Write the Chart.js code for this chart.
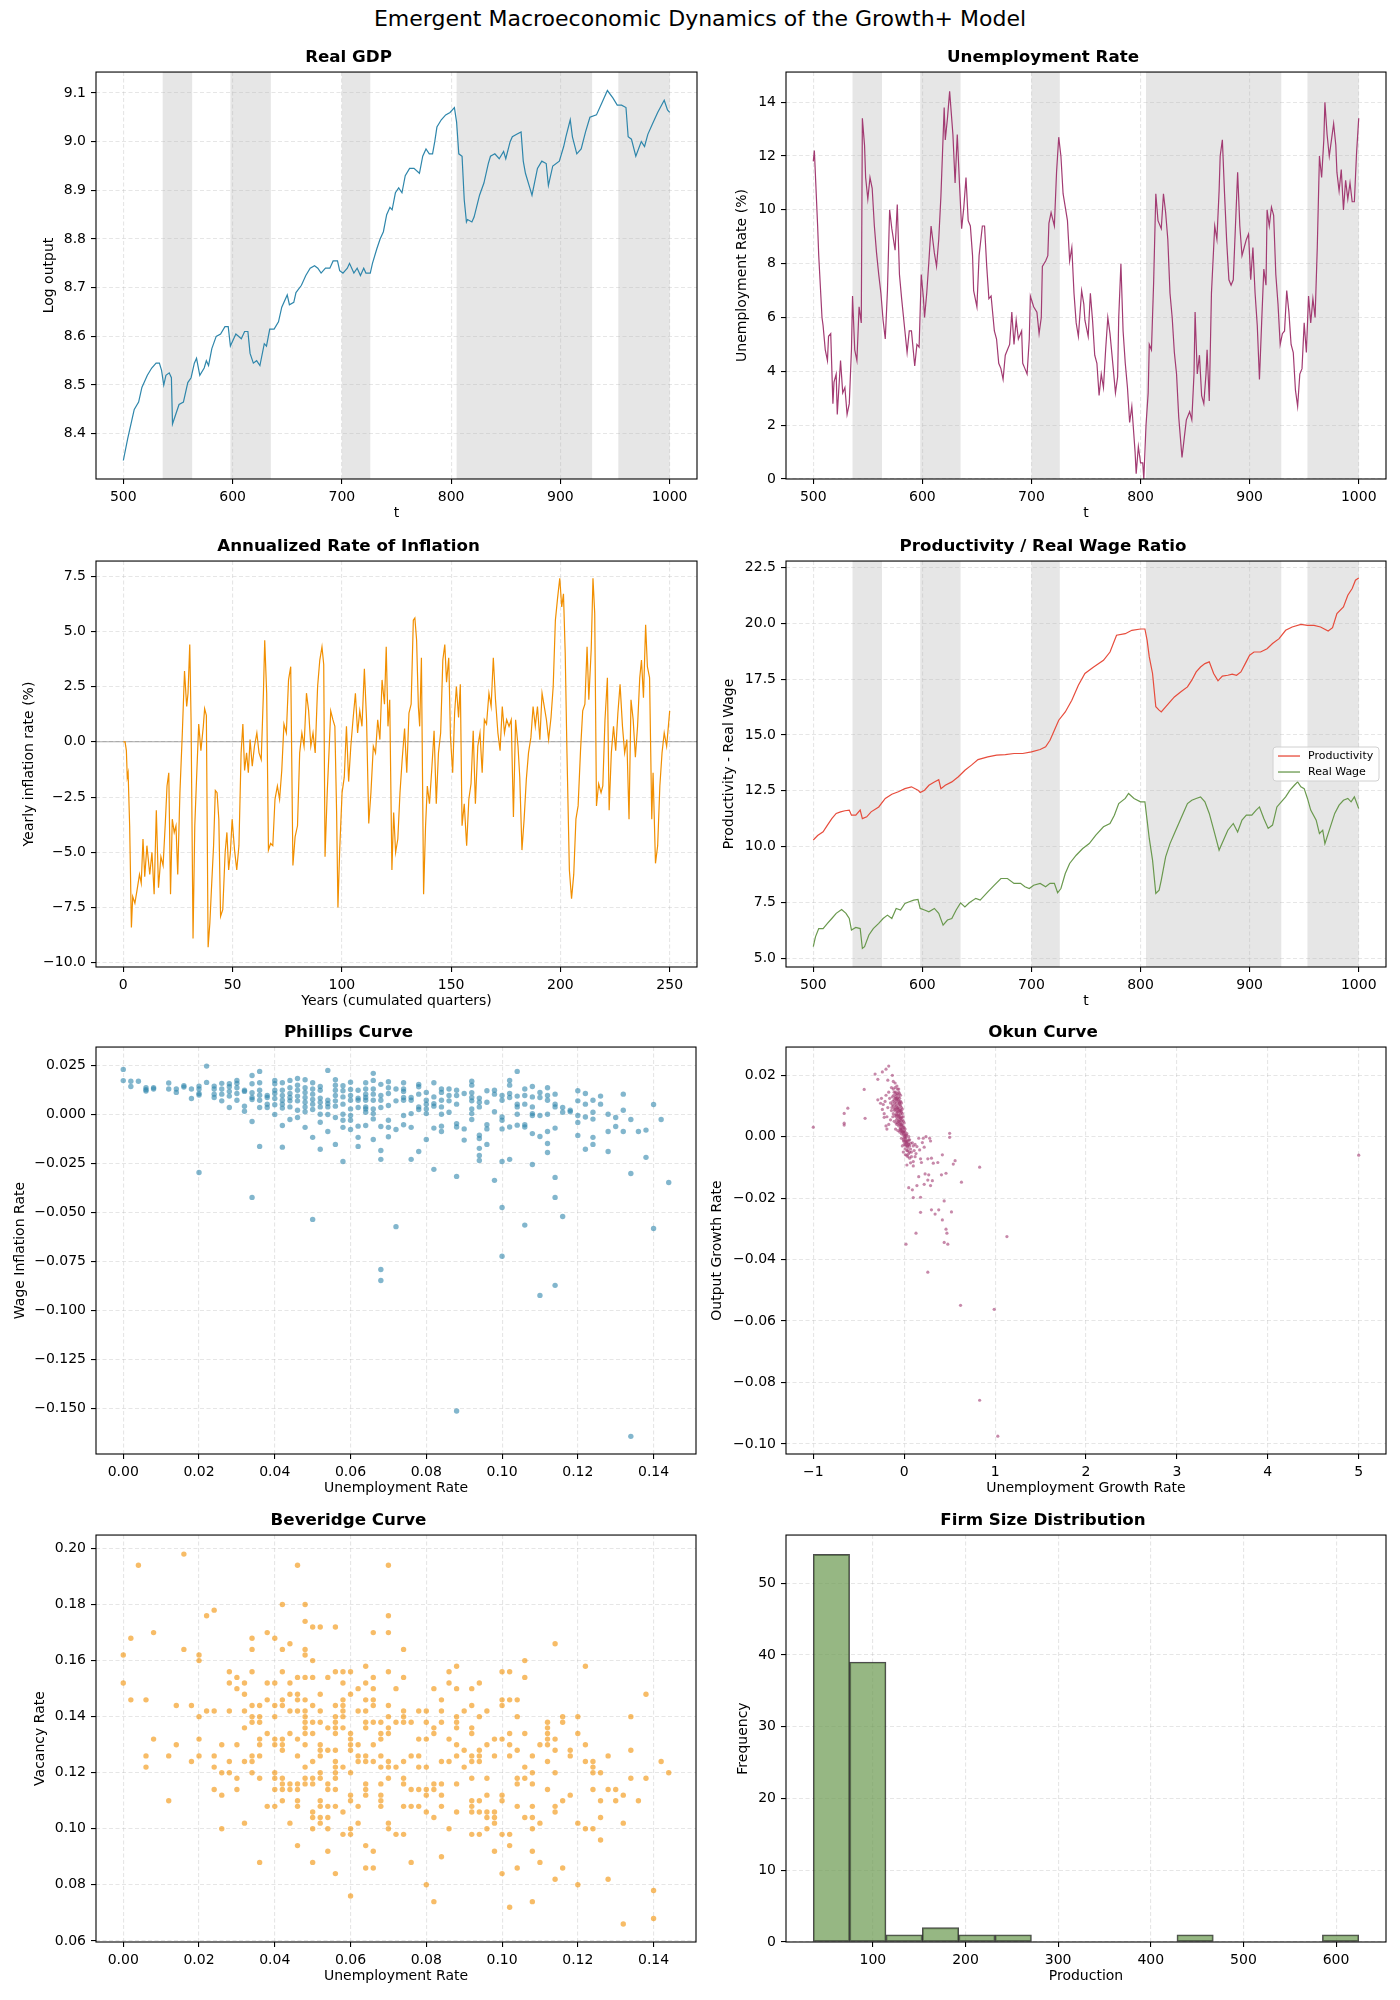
<!DOCTYPE html>
<html>
<head>
<meta charset="utf-8">
<script src="https://cdn.jsdelivr.net/npm/chart.js@4.4.1/dist/chart.umd.min.js"></script>
<style>
  body { margin: 0; background: #fff; width: 1400px; height: 2000px; position: relative; overflow: hidden; font-family: "DejaVu Sans", sans-serif; }
  #suptitle { position: absolute; left: 0; top: 7px; width: 1400px; text-align: center; font-size: 22px; line-height: 24px; color: #000; }
  canvas { position: absolute; }
</style>
</head>
<body>
<div id="suptitle">Emergent Macroeconomic Dynamics of the Growth+ Model</div>
<script>
// ---- data ----
const recessions = [[536, 563], [598, 635], [700, 726], [805, 929], [953, 1000]];

const gdpSeries = [[500,8.345],[504,8.39],[508,8.43],[510,8.45],[514,8.465],[517,8.495],[522,8.52],[526,8.535],[530,8.545],[533,8.545],[535,8.53],[537,8.50],[539,8.52],[542,8.525],[544,8.515],[545,8.42],[548,8.44],[551,8.46],[555,8.465],[559,8.505],[562,8.515],[565,8.545],[567,8.555],[570,8.52],[574,8.535],[576,8.55],[578,8.54],[581,8.575],[585,8.60],[589,8.605],[593,8.62],[596,8.62],[598,8.58],[601,8.595],[603,8.605],[608,8.595],[611,8.61],[614,8.61],[616,8.565],[619,8.545],[622,8.55],[625,8.54],[629,8.585],[631,8.58],[634,8.615],[638,8.615],[642,8.63],[645,8.66],[650,8.685],[652,8.665],[656,8.67],[658,8.69],[663,8.705],[667,8.725],[671,8.74],[675,8.745],[678,8.74],[681,8.73],[685,8.74],[689,8.74],[692,8.755],[696,8.755],[698,8.735],[701,8.73],[705,8.74],[707,8.75],[711,8.73],[714,8.74],[717,8.725],[720,8.74],[722,8.73],[726,8.73],[728,8.75],[732,8.78],[735,8.80],[738,8.815],[741,8.85],[744,8.865],[746,8.86],[749,8.895],[752,8.905],[755,8.895],[758,8.93],[762,8.945],[766,8.945],[771,8.935],[774,8.97],[777,8.985],[780,8.975],[783,8.975],[785,9.00],[787,9.03],[791,9.045],[795,9.055],[799,9.06],[803,9.07],[805,9.04],[807,8.975],[810,8.97],[812,8.88],[814,8.835],[815,8.84],[819,8.835],[821,8.845],[826,8.89],[830,8.915],[834,8.955],[836,8.97],[840,8.975],[844,8.965],[848,8.98],[850,8.965],[854,9.00],[856,9.01],[860,9.015],[864,9.02],[866,8.96],[868,8.935],[872,8.905],[874,8.89],[879,8.945],[883,8.96],[887,8.955],[889,8.91],[893,8.95],[899,8.96],[903,8.99],[905,9.01],[909,9.045],[911,9.01],[915,8.975],[919,8.985],[923,9.02],[927,9.05],[933,9.055],[938,9.08],[943,9.105],[948,9.09],[952,9.075],[956,9.075],[960,9.07],[962,9.01],[965,9.005],[969,8.97],[974,9.00],[977,8.99],[980,9.015],[984,9.035],[989,9.06],[995,9.085],[998,9.065],[1000,9.06]];

const unempSeries = [[500,11.8],[501,12.2],[504,9.4],[505,8.3],[508,6.0],[509,5.7],[511,4.8],[513,4.4],[514,5.3],[516,5.4],[518,2.8],[519,3.6],[521,3.9],[522,2.4],[525,4.4],[527,3.2],[529,3.4],[531,2.4],[533,2.8],[535,4.8],[536,6.8],[538,4.8],[540,4.4],[542,6.4],[544,5.8],[545,13.4],[547,12.4],[548,11.2],[550,10.4],[552,11.2],[554,10.8],[556,9.4],[558,8.4],[560,7.6],[562,6.9],[564,5.9],[566,5.2],[568,7.0],[570,10.0],[572,9.3],[575,8.5],[577,10.2],[579,7.6],[581,6.7],[584,5.5],[586,4.7],[588,5.5],[590,5.5],[593,4.2],[595,5.0],[597,4.9],[599,7.6],[601,6.7],[602,6.0],[604,6.9],[606,8.1],[608,9.4],[611,8.4],[613,7.9],[615,8.9],[617,10.5],[620,13.8],[621,12.6],[623,13.4],[625,14.4],[628,12.8],[630,11.0],[632,12.8],[634,11.0],[636,9.3],[638,10.1],[640,11.2],[642,9.6],[644,9.4],[646,8.3],[647,7.0],[650,6.4],[652,8.3],[655,9.4],[657,9.4],[659,7.9],[661,6.7],[663,6.8],[666,5.5],[668,5.2],[670,4.3],[672,4.1],[674,3.7],[676,4.6],[678,4.8],[680,5.0],[682,6.2],[684,5.0],[686,5.9],[688,5.2],[691,5.5],[692,4.3],[694,4.1],[696,3.9],[698,5.2],[699,6.8],[702,6.4],[705,6.2],[707,5.4],[709,6.0],[710,7.9],[713,8.1],[715,8.3],[716,9.5],[718,9.9],[721,9.4],[723,11.4],[725,12.7],[727,12.0],[729,10.6],[731,10.1],[733,9.6],[735,8.1],[737,8.6],[739,6.9],[741,5.8],[743,5.3],[746,7.0],[748,6.5],[749,5.9],[752,5.3],[754,6.9],[756,5.9],[758,4.6],[760,4.3],[762,3.1],[764,3.9],[766,3.4],[768,4.8],[770,6.0],[772,5.4],[775,4.1],[777,3.2],[779,3.8],[780,6.0],[782,8.0],[784,5.5],[786,4.3],[788,3.4],[790,2.1],[792,2.7],[795,1.0],[796,0.2],[798,1.2],[800,0.6],[802,0.6],[803,0.0],[805,2.0],[807,3.2],[808,5.0],[810,4.8],[812,7.3],[814,10.6],[816,9.6],[819,9.3],[821,10.6],[823,9.9],[825,8.9],[827,6.9],[829,6.0],[831,4.7],[833,3.9],[835,2.3],[838,0.8],[840,1.5],[842,2.2],[845,2.5],[847,2.2],[849,3.9],[850,6.2],[852,3.9],[854,4.6],[856,3.1],[858,2.8],[860,3.9],[861,4.8],[863,2.9],[865,6.9],[868,9.4],[870,8.9],[872,10.7],[873,12.0],[875,12.6],[877,10.6],[879,8.8],[881,7.4],[883,7.2],[885,7.4],[887,9.4],[889,11.4],[891,9.4],[893,8.3],[895,8.6],[897,8.9],[899,9.1],[901,7.4],[903,8.6],[905,6.9],[907,5.7],[909,3.7],[911,5.8],[913,7.8],[915,7.2],[916,10.0],[918,9.4],[920,10.1],[922,9.8],[924,7.6],[926,6.5],[928,5.0],[930,5.4],[932,5.5],[934,7.0],[936,6.2],[938,5.0],[940,4.7],[942,3.3],[944,2.7],[946,3.9],[948,4.1],[950,5.8],[952,4.7],[954,6.8],[956,5.8],[958,6.7],[960,6.0],[962,8.6],[964,12.0],[966,11.2],[968,12.6],[969,14.0],[971,12.8],[973,12.0],[975,12.6],[977,13.2],[979,12.4],[980,11.4],[982,10.7],[984,11.5],[986,10.0],[988,11.1],[990,10.4],[992,11.0],[994,10.3],[996,10.3],[998,12.1],[1000,13.4]];

const inflSeries = [[0,0.0],[0.8,0.0],[1.4,-0.4],[1.8,-1.6],[2.2,-1.4],[2.9,-3.8],[3.7,-8.4],[4.3,-7.0],[5.3,-7.3],[6.3,-6.7],[7.4,-6.0],[8.2,-6.4],[9.0,-4.4],[9.8,-6.1],[10.8,-4.7],[12.1,-6.0],[13.1,-5.0],[14.1,-6.9],[15.1,-3.1],[16.1,-6.6],[17.2,-5.2],[18.2,-5.6],[19.2,-3.7],[20.0,-2.0],[20.8,-1.4],[21.6,-6.9],[22.4,-3.5],[23.3,-4.1],[24.1,-3.8],[24.9,-6.0],[25.9,-2.3],[27.0,0.4],[28.0,3.2],[29.0,1.6],[29.6,2.2],[30.4,4.4],[31.0,1.0],[31.9,-8.9],[32.7,-3.8],[33.5,-1.7],[34.5,0.8],[35.5,-0.4],[36.6,0.7],[37.2,1.5],[38.0,1.2],[38.8,-9.3],[39.6,-8.2],[40.4,-6.5],[41.3,-4.7],[42.1,-2.2],[42.9,-2.3],[43.7,-3.5],[44.5,-7.9],[45.5,-7.6],[46.6,-5.0],[47.4,-4.1],[48.2,-5.8],[49.0,-5.0],[49.8,-3.5],[50.9,-4.9],[51.9,-5.8],[52.9,-4.7],[53.9,-0.5],[54.7,0.8],[55.5,-1.3],[56.4,-0.5],[57.2,-1.4],[58.0,0.1],[59.0,-1.1],[60.0,-0.2],[61.1,0.4],[62.1,-0.5],[63.1,-0.8],[64.1,2.2],[64.7,4.6],[65.6,2.2],[66.4,-4.9],[67.4,-4.6],[68.4,-4.7],[69.4,-2.6],[70.5,-2.0],[71.5,-2.6],[72.5,-1.3],[73.5,0.8],[74.6,0.4],[75.6,2.8],[76.6,3.4],[77.6,-5.6],[78.6,-4.3],[79.7,-3.8],[80.7,-0.5],[81.7,0.4],[82.7,-0.2],[83.8,2.2],[84.8,1.4],[85.8,-0.2],[86.8,0.4],[87.8,-0.5],[88.9,2.5],[89.9,3.7],[90.9,4.3],[91.7,3.5],[92.3,-5.2],[93.3,-2.3],[94.1,-0.5],[94.9,1.4],[95.9,1.0],[96.8,0.7],[97.6,-3.2],[98.2,-7.5],[99.0,-4.9],[100.1,-2.3],[101.1,-1.6],[102.1,0.7],[103.1,-1.8],[104.1,-0.2],[105.1,1.0],[106.2,2.2],[107.2,0.4],[108.2,1.4],[109.2,0.7],[110.3,3.3],[111.3,1.0],[112.3,-3.7],[113.3,-2.3],[114.4,-0.2],[115.4,-0.5],[116.4,1.0],[117.4,0.1],[118.4,2.8],[119.5,1.7],[120.3,4.3],[121.1,0.7],[121.9,1.9],[122.9,-5.8],[123.7,-3.2],[124.6,-5.0],[125.6,-4.4],[126.6,-2.3],[127.6,-0.8],[128.7,0.6],[129.7,-1.4],[130.7,1.3],[131.7,1.7],[132.7,5.5],[133.4,5.6],[134.2,4.6],[135.0,1.6],[135.6,0.7],[136.4,3.8],[137.4,-6.9],[138.3,-3.8],[139.1,-2.0],[140.1,-2.8],[141.1,-1.3],[142.2,0.5],[143.2,-2.8],[144.2,-0.5],[145.2,0.4],[146.2,3.7],[147.1,4.4],[147.9,2.7],[148.9,3.8],[149.7,0.2],[150.7,-1.4],[151.6,1.3],[152.4,2.5],[153.4,1.1],[154.2,2.6],[155.0,-3.8],[156.0,-2.8],[157.1,-4.7],[158.1,-2.6],[159.1,-1.9],[160.1,0.5],[161.1,-2.8],[162.2,-0.2],[163.2,0.4],[164.2,-1.4],[165.2,1.0],[166.2,0.8],[167.3,2.2],[168.3,1.6],[169.3,3.8],[170.3,1.9],[171.4,0.4],[172.4,-0.4],[173.4,1.6],[174.4,0.4],[175.4,1.0],[176.5,0.7],[177.5,1.0],[178.5,-3.4],[179.5,1.0],[180.6,-0.2],[181.4,-1.6],[182.4,-4.9],[183.4,-3.5],[184.4,-1.7],[185.4,-0.5],[186.5,0.2],[187.5,1.6],[188.5,0.7],[189.5,1.6],[190.6,0.1],[191.6,2.2],[192.6,1.6],[193.6,1.0],[194.6,0.1],[195.7,1.1],[196.7,2.5],[197.7,5.5],[198.7,6.5],[199.7,7.4],[200.6,6.1],[201.4,6.7],[202.2,4.0],[203.0,-0.5],[204.1,-5.8],[205.1,-7.1],[206.1,-6.0],[207.1,-3.5],[208.1,-2.9],[209.2,-0.4],[210.2,1.4],[211.2,1.7],[212.2,4.3],[213.0,1.9],[214.1,4.2],[214.9,7.4],[215.7,5.8],[216.5,-2.9],[217.5,-1.9],[218.6,-2.3],[219.4,-2.0],[220.4,1.0],[221.5,2.9],[222.3,-3.1],[223.3,-0.5],[224.3,0.7],[225.3,-0.4],[226.3,1.3],[227.3,2.6],[228.4,0.7],[229.4,-0.5],[230.4,0.1],[231.4,-3.5],[232.3,1.9],[233.3,1.0],[234.3,-0.7],[235.3,0.7],[236.3,2.9],[237.1,3.7],[238.0,2.0],[239.0,5.3],[239.8,3.4],[240.8,2.9],[241.8,-3.5],[242.4,-1.4],[243.5,-5.5],[244.5,-4.7],[245.5,-2.0],[246.5,-0.5],[247.5,0.4],[248.6,-0.2],[249.4,0.7],[250,1.4]];

const prodSeries = [[500,10.3],[504,10.5],[509,10.67],[513,10.97],[517,11.26],[521,11.49],[525,11.56],[529,11.61],[533,11.64],[535,11.41],[539,11.41],[543,11.64],[545,11.26],[549,11.34],[553,11.56],[560,11.78],[566,12.16],[572,12.35],[578,12.46],[584,12.6],[590,12.68],[596,12.53],[598,12.43],[602,12.53],[606,12.75],[611,12.9],[615,13.0],[617,12.6],[621,12.75],[627,12.9],[633,13.13],[639,13.42],[645,13.65],[651,13.9],[660,14.02],[668,14.1],[676,14.12],[684,14.17],[692,14.17],[700,14.24],[708,14.35],[713,14.47],[717,14.76],[721,15.21],[725,15.66],[731,16.03],[737,16.55],[743,17.22],[749,17.75],[757,18.04],[766,18.34],[772,18.71],[778,19.46],[786,19.53],[792,19.68],[800,19.74],[804,19.74],[806,19.24],[808,18.49],[811,17.75],[814,16.26],[817,16.11],[819,16.03],[823,16.26],[827,16.48],[831,16.7],[837,16.93],[843,17.15],[847,17.45],[851,17.82],[855,18.04],[859,18.19],[863,18.27],[867,17.75],[871,17.42],[875,17.63],[880,17.67],[884,17.72],[888,17.67],[892,17.82],[896,18.19],[900,18.57],[904,18.71],[910,18.71],[916,18.86],[921,19.09],[927,19.31],[933,19.68],[939,19.83],[947,19.95],[953,19.9],[959,19.9],[965,19.83],[972,19.65],[976,19.8],[980,20.43],[986,20.73],[990,21.25],[994,21.55],[997,21.92],[1000,22.02]];

const wageSeries = [[500,5.53],[502,5.97],[505,6.34],[509,6.34],[513,6.57],[517,6.79],[521,7.02],[526,7.19],[530,7.02],[533,6.79],[535,6.27],[539,6.39],[543,6.34],[545,5.45],[547,5.53],[551,6.05],[555,6.34],[560,6.57],[564,6.79],[568,6.94],[572,6.79],[576,7.24],[580,7.17],[584,7.46],[588,7.54],[592,7.61],[596,7.64],[598,7.24],[602,7.17],[606,7.09],[611,7.24],[615,7.02],[619,6.49],[623,6.72],[627,6.79],[631,7.17],[635,7.49],[639,7.31],[643,7.49],[649,7.69],[653,7.61],[660,7.98],[666,8.28],[672,8.58],[678,8.58],[684,8.36],[690,8.36],[694,8.21],[698,8.13],[702,8.28],[708,8.36],[713,8.21],[717,8.36],[721,8.36],[724,7.94],[727,8.13],[731,8.8],[735,9.25],[741,9.62],[747,9.92],[753,10.14],[759,10.52],[766,10.89],[772,11.04],[776,11.41],[780,11.93],[786,12.16],[789,12.38],[794,12.16],[800,12.01],[804,12.01],[806,11.19],[808,10.37],[811,9.4],[814,7.91],[817,8.06],[819,8.51],[823,9.55],[827,10.14],[831,10.59],[835,11.04],[839,11.49],[843,11.93],[847,12.08],[851,12.16],[855,12.23],[859,12.01],[863,11.49],[868,10.59],[872,9.85],[876,10.29],[880,10.74],[885,11.04],[889,10.66],[893,11.19],[897,11.41],[902,11.41],[906,11.64],[909,11.78],[913,11.26],[917,10.82],[921,10.97],[925,11.78],[929,12.01],[933,12.23],[937,12.53],[941,12.75],[944,12.9],[947,12.68],[950,12.6],[953,12.16],[956,11.64],[961,11.19],[964,10.59],[967,10.74],[969,10.14],[974,10.89],[978,11.49],[982,11.86],[986,12.08],[990,12.16],[993,12.01],[996,12.23],[1000,11.71]];

// Phillips curve: [unemployment rate, [wage inflation values]]
const phillipsCols = [
  [0.000,[0.0228,0.0171]],[0.002,[0.0168,0.0141]],[0.004,[0.0168]],[0.006,[0.0135,0.0125,0.0118]],
  [0.008,[0.0135,0.0128]],[0.012,[0.0159,0.0128]],[0.014,[0.0128,0.0111]],[0.016,[0.0145,0.0138]],
  [0.018,[0.0128,0.0080]],[0.020,[0.0143,0.0128,0.0105,0.0098,-0.0297]],[0.022,[0.0245,0.0162]],
  [0.024,[0.0143,0.0128,0.0102,0.0085]],[0.026,[0.0157,0.0128,0.0102,0.0068]],
  [0.028,[0.0155,0.0140,0.0116,0.0092,0.0034]],[0.030,[0.0172,0.0157,0.0135,0.0105,0.0071]],
  [0.032,[0.0122,0.0116,0.0041,0.0015]],[0.034,[0.0197,0.0155,0.0109,0.0085,0.0075,-0.0037,-0.0424]],
  [0.036,[0.0218,0.0160,0.0122,0.0097,0.0071,0.0034,-0.0164]],[0.038,[0.0095,0.0085,0.0051,0.0034]],
  [0.040,[0.0172,0.0155,0.0122,0.0105,0.0080,0.0048,-0.0002]],
  [0.042,[0.0160,0.0122,0.0095,0.0071,0.0051,0.0031,-0.0058,-0.0168]],
  [0.044,[0.0172,0.0135,0.0105,0.0085,0.0068,0.0037,-0.0027]],
  [0.046,[0.0182,0.0148,0.0122,0.0092,0.0068,0.0020,-0.0017]],
  [0.048,[0.0175,0.0135,0.0111,0.0085,0.0061,0.0037,0.0012,-0.0067]],
  [0.050,[0.0160,0.0128,0.0102,0.0075,0.0051,0.0024,-0.0118,-0.0536]],
  [0.052,[0.0141,0.0122,0.0082,0.0061,0.0037,0.0000,-0.0041,-0.0179]],
  [0.054,[0.0223,0.0071,0.0054,0.0037,-0.0002,-0.0088]],
  [0.056,[0.0175,0.0148,0.0122,0.0095,0.0068,0.0041,-0.0017,-0.0154]],
  [0.058,[0.0145,0.0119,0.0088,0.0051,0.0000,-0.0031,-0.0067,-0.0241]],
  [0.060,[0.0163,0.0126,0.0095,0.0071,0.0027,-0.0007,-0.0031,-0.0078]],
  [0.062,[0.0122,0.0082,0.0071,0.0034,-0.0061,-0.0118,-0.0164]],
  [0.064,[0.0160,0.0128,0.0102,0.0085,0.0071,0.0037,0.0027,0.0010,-0.0058]],
  [0.066,[0.0208,0.0172,0.0128,0.0102,0.0071,0.0027,0.0003,-0.0024,-0.0129]],
  [0.068,[0.0152,0.0095,0.0071,0.0034,-0.0063,-0.0185,-0.0230,-0.0791,-0.0847]],
  [0.070,[0.0165,0.0135,0.0105,0.0044,-0.0031,-0.0067,-0.0115]],
  [0.072,[0.0128,0.0068,-0.0078,-0.0573]],
  [0.074,[0.0160,0.0128,0.0116,0.0085,0.0071,-0.0007,-0.0054]],
  [0.076,[0.0085,0.0071,0.0003,-0.0067,-0.0230]],
  [0.078,[0.0152,0.0140,0.0102,0.0037,0.0024,-0.0190]],
  [0.080,[0.0111,0.0071,0.0051,0.0027,0.0003,-0.0129]],
  [0.082,[0.0160,0.0088,0.0054,0.0041,-0.0071,-0.0281]],
  [0.084,[0.0128,0.0111,0.0071,0.0037,0.0000,-0.0061,-0.0088]],
  [0.086,[0.0128,0.0095,0.0068,0.0010]],
  [0.088,[0.0122,0.0095,0.0051,-0.0048,-0.0065,-0.0317,-0.1512]],
  [0.090,[0.0105,-0.0075,-0.0132]],
  [0.092,[0.0168,0.0148,0.0109,0.0085,0.0068,0.0027,0.0003,-0.0027]],
  [0.094,[0.0082,0.0061,0.0037,-0.0107,-0.0124,-0.0174,-0.0210,-0.0236]],
  [0.096,[0.0119,0.0061,-0.0054,-0.0075,-0.0154]],
  [0.098,[0.0122,0.0102,0.0012,-0.0337]],
  [0.100,[0.0095,0.0071,-0.0014,-0.0031,-0.0075,-0.0241,-0.0475,-0.0724]],
  [0.102,[0.0172,0.0148,0.0105,0.0085,-0.0065,-0.0230]],
  [0.104,[0.0218,0.0092,0.0051,0.0037,0.0000,-0.0056]],
  [0.106,[0.0128,0.0095,0.0051,-0.0054,-0.0065,-0.0565]],
  [0.108,[0.0141,0.0088,0.0037,0.0003,-0.0007,-0.0099,-0.0256]],
  [0.110,[0.0111,0.0085,-0.0007,-0.0114,-0.0923]],
  [0.112,[0.0135,0.0095,0.0071,0.0000,-0.0088,-0.0149,-0.0195]],
  [0.114,[0.0102,0.0051,0.0037,-0.0071,-0.0322,-0.0424,-0.0872]],
  [0.116,[0.0034,0.0010,-0.0521]],[0.118,[0.0020,0.0012]],
  [0.120,[0.0119,0.0068,-0.0007,-0.0042,-0.0108]],[0.122,[0.0105,0.0051,-0.0014,-0.0179]],
  [0.124,[0.0071,0.0010,-0.0025,-0.0118,-0.0154]],[0.126,[0.0092,0.0051]],
  [0.128,[0.0000,-0.0088,-0.0190]],[0.130,[-0.0017,-0.0063]],[0.132,[0.0102,0.0020,-0.0088]],
  [0.134,[-0.0027,-0.0302,-0.1641]],[0.136,[-0.0088]],[0.138,[-0.0081,-0.0220]],
  [0.140,[0.0049,-0.0582]],[0.142,[-0.0027]],[0.144,[-0.0348]]
];

// Okun curve: [unemployment growth, output growth]
const okunPoints = [
  [-1.0,0.0031],[-0.66,0.0076],[-0.66,0.0044],[-0.66,0.0038],[-0.62,0.0093],[-0.44,0.0154],[-0.43,0.0060],
  [-0.32,0.0204],[-0.29,0.0187],[-0.24,0.0211],[-0.20,0.0220],[-0.17,0.0230],[-0.13,0.0200],[-0.18,0.0184],
  [-0.29,0.0120],[-0.26,0.0109],[-0.24,0.0089],[-0.22,0.0063],[-0.20,0.0035],[-0.19,0.0025],[-0.17,0.0040],
  [-0.14,0.016],[-0.12,0.0155],[-0.10,0.016],[-0.09,0.014],[-0.08,0.0135],[-0.07,0.014],[-0.06,0.013],[-0.05,0.0125],
  [-0.13,0.013],[-0.11,0.012],[-0.10,0.0125],[-0.09,0.0115],[-0.08,0.012],[-0.07,0.011],[-0.06,0.0105],[-0.05,0.011],
  [-0.04,0.010],[-0.15,0.011],[-0.13,0.0105],[-0.12,0.010],[-0.11,0.009],[-0.10,0.0095],[-0.09,0.009],[-0.08,0.0085],
  [-0.07,0.009],[-0.06,0.008],[-0.05,0.0085],[-0.04,0.0075],[-0.03,0.008],[-0.14,0.0085],[-0.12,0.0075],[-0.10,0.007],
  [-0.09,0.0065],[-0.08,0.007],[-0.07,0.006],[-0.06,0.0065],[-0.05,0.0055],[-0.04,0.006],[-0.03,0.005],[-0.02,0.0055],
  [-0.11,0.005],[-0.09,0.0045],[-0.08,0.004],[-0.07,0.0045],[-0.06,0.0035],[-0.05,0.004],[-0.04,0.003],[-0.03,0.0035],
  [-0.02,0.0025],[-0.01,0.003],[0.0,0.002],[-0.07,0.002],[-0.05,0.0015],[-0.04,0.002],[-0.03,0.001],[-0.02,0.0015],
  [-0.01,0.0005],[0.0,0.001],[0.01,0.0005],[0.02,0.0],[-0.03,-0.0005],[-0.01,-0.001],[0.0,-0.0005],[0.01,-0.0015],
  [0.02,-0.001],[0.03,-0.002],[0.04,-0.0015],[0.05,-0.0025],[0.0,-0.0025],[0.02,-0.003],[0.04,-0.0035],[0.06,-0.003],
  [0.07,-0.004],[0.01,-0.004],[0.03,-0.0045],[0.05,-0.0055],[0.08,-0.005],[-0.02,-0.003],[-0.16,0.0125],[-0.18,0.0095],
  [-0.2,0.0135],[-0.21,0.0115],[-0.23,0.0105],[-0.25,0.0125],[-0.22,0.0075],[-0.19,0.0065],[-0.15,0.0055],[-0.17,0.0145],
  [-0.12,0.018],[-0.1,0.0175],[-0.08,0.0165],[-0.06,0.0155],[-0.11,0.0145],[-0.04,0.0135],[-0.03,0.011],[-0.02,0.009],
  [-0.01,0.0065],[0.0,0.0045],[0.01,0.0025],[0.03,0.001],[0.05,0.0],[0.06,-0.001],[0.09,-0.002],[0.1,-0.003],
  [0.08,-0.0065],[0.06,-0.007],[0.03,-0.006],[-0.01,-0.005],[0.11,-0.0045],[0.12,-0.0025],[0.13,-0.0055],[0.07,-0.0085],
  [-0.115,0.0135],[-0.095,0.013],[-0.085,0.0125],[-0.075,0.0125],[-0.065,0.012],[-0.055,0.0115],[-0.045,0.0105],
  [-0.105,0.011],[-0.095,0.0105],[-0.085,0.01],[-0.075,0.0095],[-0.065,0.0095],[-0.055,0.009],[-0.045,0.0085],
  [-0.035,0.0085],[-0.085,0.0075],[-0.075,0.008],[-0.065,0.007],[-0.055,0.007],[-0.045,0.0065],[-0.035,0.006],
  [-0.025,0.0065],[-0.065,0.005],[-0.055,0.005],[-0.045,0.0045],[-0.035,0.004],[-0.025,0.004],[-0.015,0.0035],
  [-0.045,0.0025],[-0.035,0.0025],[-0.025,0.002],[-0.015,0.0015],[-0.005,0.0015],[0.005,0.0],[0.015,-0.0005],
  [-0.005,-0.0015],[0.025,-0.0015],[0.035,-0.003],[0.045,-0.0025],[0.015,-0.0025],[-0.075,0.0155],[-0.095,0.0145],
  [-0.125,0.0115],[-0.135,0.0095],[-0.105,0.0085],[-0.125,0.0065],[-0.085,0.0055],[-0.095,0.0025],[-0.06,0.0145],
  [-0.05,0.014],[-0.04,0.0115],[-0.03,0.0095],[-0.02,0.0075],[-0.01,0.005],[0.0,0.003],[0.01,0.0015],[0.02,-0.002],
  [0.04,-0.0045],[0.06,-0.005],[0.025,0.0005],
  [0.1,-0.0095],[0.013,-0.0059],[0.03,-0.0092],[0.04,-0.0065],[0.05,-0.0010],[0.07,-0.0021],[0.10,-0.0081],[0.12,-0.0065],
  [0.14,-0.0032],[0.16,-0.0005],[0.17,-0.0043],[0.18,-0.0072],[0.19,-0.0084],[0.20,-0.0019],[0.21,-0.0005],[0.22,-0.0034],
  [0.24,0.0000],[0.26,-0.0072],[0.27,-0.0124],[0.28,-0.0005],[0.29,-0.0014],[0.30,-0.0070],[0.31,-0.0143],[0.32,-0.0086],
  [0.37,-0.0084],[0.42,-0.0059],[0.44,-0.0209],[0.41,-0.0124],[0.46,-0.0119],[0.50,0.0011],[0.50,-0.0002],[0.54,-0.0089],
  [0.56,-0.0078],[0.63,-0.0148],[0.83,-0.0099],[1.13,-0.0325],[0.18,-0.0246],[0.10,-0.0198],[0.18,-0.0197],[0.30,-0.0238],
  [0.34,-0.0252],[0.38,-0.0238],[0.42,-0.0271],[0.46,-0.0301],[0.47,-0.0314],[0.44,-0.0344],[0.48,-0.0350],[0.13,-0.0314],
  [0.02,-0.0350],[0.26,-0.0441],[0.52,-0.0245],[0.62,-0.0549],[0.99,-0.0562],[0.83,-0.0858],[1.03,-0.0975],[5.0,-0.0060],
  [0.05,-0.0166],[0.09,-0.0173],[0.14,-0.0159],[0.16,-0.0130],[0.23,-0.0121],[0.26,-0.0141],[0.29,-0.0159],[0.22,-0.0155]
];

// Beveridge curve: [unemployment rate, [vacancy rates]]
const beveridgeCols = [
  [0.000,[0.162,0.152]],[0.002,[0.168,0.146]],[0.004,[0.194]],[0.006,[0.146,0.126,0.122]],[0.008,[0.170,0.132]],
  [0.012,[0.126,0.110]],[0.014,[0.144,0.130]],[0.016,[0.198,0.164]],[0.018,[0.144,0.124]],
  [0.020,[0.162,0.160,0.140,0.132,0.126]],[0.022,[0.176,0.142]],[0.024,[0.178,0.142,0.126,0.122,0.114]],
  [0.026,[0.130,0.120,0.112,0.100]],[0.028,[0.156,0.152,0.142,0.124,0.120]],[0.030,[0.154,0.150,0.130,0.118,0.114]],
  [0.032,[0.152,0.148,0.142,0.136,0.124,0.102]],[0.034,[0.168,0.164,0.156,0.144,0.140,0.138,0.126,0.124,0.120]],
  [0.036,[0.144,0.140,0.138,0.132,0.130,0.126,0.118,0.088]],[0.038,[0.170,0.152,0.146,0.134,0.108]],
  [0.040,[0.168,0.152,0.144,0.140,0.132,0.130,0.120,0.118,0.114,0.108]],
  [0.042,[0.180,0.164,0.156,0.146,0.144,0.132,0.130,0.128,0.118,0.116,0.114,0.110]],
  [0.044,[0.166,0.152,0.148,0.142,0.134,0.116,0.114,0.102]],
  [0.046,[0.194,0.154,0.148,0.146,0.142,0.132,0.126,0.116,0.114,0.110,0.108,0.094]],
  [0.048,[0.180,0.174,0.164,0.162,0.154,0.146,0.142,0.140,0.138,0.136,0.134,0.130,0.122,0.118,0.116]],
  [0.050,[0.172,0.160,0.154,0.144,0.138,0.134,0.124,0.118,0.116,0.106,0.104,0.100,0.088]],
  [0.052,[0.172,0.148,0.142,0.138,0.130,0.128,0.126,0.120,0.118,0.110,0.108,0.104,0.102]],
  [0.054,[0.154,0.136,0.128,0.116,0.114,0.108,0.104,0.100,0.092]],
  [0.056,[0.172,0.156,0.144,0.140,0.138,0.136,0.134,0.128,0.124,0.122,0.120,0.118,0.114,0.108,0.084]],
  [0.058,[0.156,0.152,0.146,0.144,0.142,0.140,0.136,0.122,0.106,0.098]],
  [0.060,[0.156,0.148,0.134,0.132,0.130,0.128,0.120,0.112,0.110,0.100,0.098,0.076]],
  [0.062,[0.150,0.142,0.130,0.126,0.124,0.108,0.102]],
  [0.064,[0.158,0.152,0.146,0.142,0.138,0.136,0.126,0.124,0.116,0.114,0.112,0.094,0.086]],
  [0.066,[0.170,0.154,0.150,0.146,0.144,0.138,0.130,0.124,0.092,0.086]],
  [0.068,[0.138,0.134,0.132,0.126,0.122,0.116,0.112,0.110,0.108]],
  [0.070,[0.194,0.176,0.170,0.156,0.144,0.140,0.136,0.134,0.124,0.122,0.118,0.102,0.100]],
  [0.072,[0.150,0.138,0.122,0.098]],[0.074,[0.164,0.154,0.142,0.140,0.138,0.124,0.118,0.116,0.108,0.098]],
  [0.076,[0.138,0.126,0.114,0.108,0.088]],[0.078,[0.142,0.132,0.126,0.122,0.114,0.108]],
  [0.080,[0.142,0.138,0.132,0.122,0.114,0.112,0.106,0.080]],[0.082,[0.150,0.136,0.134,0.116,0.114,0.104,0.074]],
  [0.084,[0.146,0.142,0.138,0.124,0.116,0.112,0.108,0.090]],[0.086,[0.156,0.152,0.132,0.124,0.100]],
  [0.088,[0.158,0.150,0.140,0.138,0.136,0.130,0.126,0.116,0.106]],[0.090,[0.142,0.128,0.122]],
  [0.092,[0.150,0.144,0.136,0.134,0.126,0.124,0.118,0.110,0.108,0.106,0.098]],
  [0.094,[0.152,0.140,0.128,0.126,0.124,0.110,0.106,0.098]],[0.096,[0.142,0.130,0.118,0.112,0.106,0.104,0.100]],
  [0.098,[0.132,0.126,0.106,0.104,0.102,0.092]],[0.100,[0.156,0.146,0.144,0.132,0.112,0.110,0.098,0.084]],
  [0.102,[0.156,0.146,0.134,0.130,0.126,0.098,0.094,0.072]],[0.104,[0.146,0.140,0.128,0.118,0.116,0.108,0.086]],
  [0.106,[0.160,0.154,0.134,0.122,0.118,0.104]],[0.108,[0.126,0.120,0.116,0.108,0.104,0.100,0.092,0.074]],
  [0.110,[0.130,0.102,0.088]],[0.112,[0.138,0.136,0.134,0.132,0.130,0.124,0.114]],
  [0.114,[0.166,0.132,0.128,0.120,0.108,0.106,0.082]],[0.116,[0.140,0.138,0.110,0.086]],[0.118,[0.128,0.126,0.112]],
  [0.120,[0.140,0.134,0.102,0.080]],[0.122,[0.158,0.130,0.124,0.100]],[0.124,[0.124,0.122,0.120,0.114,0.100]],
  [0.126,[0.120,0.110,0.104,0.096]],[0.128,[0.126,0.114,0.082]],[0.130,[0.114,0.110]],[0.132,[0.112,0.102,0.066]],
  [0.134,[0.140,0.128,0.118]],[0.136,[0.110]],[0.138,[0.148,0.118]],[0.140,[0.078,0.068]],[0.142,[0.124]],[0.144,[0.120]]
];

// Firm size histogram: bin edges (production) and counts
const histEdges = [35.6, 74.9, 114.1, 153.4, 192.6, 231.9, 271.2, 310.4, 349.7, 388.9, 428.2, 467.5, 506.7, 546.0, 585.2, 624.5];
const histCounts = [54, 39, 1, 2, 1, 1, 0, 0, 0, 0, 1, 0, 0, 0, 1];

// tick values
const tTicks = [500, 600, 700, 800, 900, 1000];
const gdpTicks = [8.4, 8.5, 8.6, 8.7, 8.8, 8.9, 9.0, 9.1];
const unempTicks = [0, 2, 4, 6, 8, 10, 12, 14];
const yearTicks = [0, 50, 100, 150, 200, 250];
const inflTicks = [-10, -7.5, -5, -2.5, 0, 2.5, 5, 7.5];
const prodTicks = [5, 7.5, 10, 12.5, 15, 17.5, 20, 22.5];
const uRateTicks = [0, 0.02, 0.04, 0.06, 0.08, 0.10, 0.12, 0.14];
const wageInflTicks = [-0.15, -0.125, -0.1, -0.075, -0.05, -0.025, 0, 0.025];
const uGrowthTicks = [-1, 0, 1, 2, 3, 4, 5];
const outGrowthTicks = [-0.10, -0.08, -0.06, -0.04, -0.02, 0, 0.02];
const vacancyTicks = [0.06, 0.08, 0.10, 0.12, 0.14, 0.16, 0.18, 0.20];
const prodnTicks = [100, 200, 300, 400, 500, 600];
const freqTicks = [0, 10, 20, 30, 40, 50];

// ---- chart setup ----
Chart.defaults.font.family = '"DejaVu Sans", sans-serif';
Chart.defaults.color = '#000';
Chart.defaults.animation = false;

const rowTop = [72, 561, 1047, 1535];
const rowBottom = [479, 967, 1454, 1942];

function fmt(v, d) {
  let s = Math.abs(v) < 1e-9 ? (0).toFixed(d) : v.toFixed(d);
  return s.replace('-', '\u2212');
}

function pts(series) { return series.map(([x, y]) => ({x, y})); }
function colPts(cols) {
  const out = [];
  cols.forEach(([x, ys]) => ys.forEach(y => out.push({x, y})));
  return out;
}

function axis(isY, min, max, ticks, dec, title, titlePad, width) {
  return {
    type: 'linear', min, max, offset: false,
    afterBuildTicks: s => { s.ticks = ticks.map(v => ({value: v})); },
    afterFit: s => { if (isY) s.width = width; else s.height = 55; },
    ticks: { autoSkip: false, maxRotation: 0, padding: 5, color: '#000', font: {size: 14},
             callback: v => fmt(v, dec) },
    grid: { offset: false, color: 'rgba(176,176,176,0.32)', lineWidth: 1.1, tickLength: 5, tickColor: '#000', tickWidth: 1.1 },
    border: { display: false, dash: [4, 2.5] },
    title: { display: true, text: title, color: '#000', font: {size: 14},
             padding: isY ? {top: titlePad, bottom: 0} : {top: 0, bottom: 12.6} }
  };
}

const framePlugin = {
  id: 'frame',
  afterDatasetsDraw(chart) {
    const {ctx, chartArea: a} = chart;
    ctx.save();
    ctx.strokeStyle = '#000';
    ctx.lineWidth = 1.1;
    ctx.strokeRect(a.left, a.top, a.right - a.left, a.bottom - a.top);
    ctx.restore();
  }
};

const spanPlugin = {
  id: 'spans',
  beforeDraw(chart, args, opts) {
    if (!opts || !opts.ranges) return;
    const {ctx, chartArea: a, scales: {x}} = chart;
    ctx.save();
    ctx.fillStyle = 'rgba(128,128,128,0.2)';
    opts.ranges.forEach(([s, e]) => {
      const x0 = x.getPixelForValue(s), x1 = x.getPixelForValue(e);
      ctx.fillRect(x0, a.top, x1 - x0, a.bottom - a.top);
    });
    ctx.restore();
  }
};

const zeroLinePlugin = {
  id: 'zeroLine',
  beforeDatasetsDraw(chart, args, opts) {
    if (!opts || opts.y === undefined) return;
    const {ctx, chartArea: a, scales: {y}} = chart;
    const py = y.getPixelForValue(opts.y);
    ctx.save();
    ctx.strokeStyle = 'rgba(0,0,0,0.35)';
    ctx.lineWidth = 1.1;
    ctx.beginPath(); ctx.moveTo(a.left, py); ctx.lineTo(a.right, py); ctx.stroke();
    ctx.restore();
  }
};

const innerLegend = {
  id: 'innerLegend',
  afterDraw(chart, args, opts) {
    if (!opts || !opts.items) return;
    const {ctx, chartArea: a} = chart;
    const w = 106, h = 34;
    const x = a.right - 7 - w, y = (a.top + a.bottom) / 2 - h / 2;
    ctx.save();
    ctx.fillStyle = 'rgba(255,255,255,0.8)';
    ctx.strokeStyle = '#d0d0d0';
    ctx.lineWidth = 1;
    ctx.beginPath(); ctx.roundRect(x, y, w, h, 3); ctx.fill(); ctx.stroke();
    ctx.font = '11px "DejaVu Sans"';
    ctx.textBaseline = 'middle';
    opts.items.forEach((it, i) => {
      const cy = y + 9 + i * 16;
      ctx.strokeStyle = it.color; ctx.lineWidth = 1.3;
      ctx.beginPath(); ctx.moveTo(x + 5, cy); ctx.lineTo(x + 27, cy); ctx.stroke();
      ctx.fillStyle = '#000';
      ctx.fillText(it.label, x + 35, cy);
    });
    ctx.restore();
  }
};

function panel(col, row, title, type, datasets, xAx, yAx, pluginOpts) {
  const c = document.createElement('canvas');
  const h = rowBottom[row] - rowTop[row] + 95;
  c.width = 700; c.height = h;
  c.style.width = '700px'; c.style.height = h + 'px';
  c.style.left = (col * 700) + 'px';
  c.style.top = (rowTop[row] - 40) + 'px';
  document.body.appendChild(c);
  new Chart(c, {
    type,
    data: { datasets },
    options: {
      responsive: false,
      devicePixelRatio: 1,
      layout: { padding: { left: 0, right: col === 0 ? 3 : 14, top: 0, bottom: 0 } },
      scales: { x: xAx, y: yAx },
      plugins: Object.assign({
        legend: { display: false },
        tooltip: { enabled: false },
        title: { display: true, text: title, color: '#000', font: {size: 16.7, weight: 'bold'},
                 padding: {top: 16, bottom: 4} }
      }, pluginOpts || {})
    },
    plugins: [spanPlugin, zeroLinePlugin, framePlugin, innerLegend]
  });
}

const yw = [96, 86];
function line(series, color) {
  return { type: 'line', data: pts(series), borderColor: color, borderWidth: 1.2,
           pointRadius: 0, tension: 0, fill: false };
}

// Row 1
panel(0, 0, 'Real GDP', 'line', [line(gdpSeries, '#2E86AB')],
  axis(false, 475, 1025, tTicks, 0, 't'),
  axis(true, 8.307, 9.143, gdpTicks, 1, 'Log output', 40.6, yw[0]),
  { spans: { ranges: recessions } });

panel(1, 0, 'Unemployment Rate', 'line', [line(unempSeries, '#A23B72')],
  axis(false, 475, 1025, tTicks, 0, 't'),
  axis(true, 0, 15.12, unempTicks, 0, 'Unemployment Rate (%)', 33.6, yw[1]),
  { spans: { ranges: recessions } });

// Row 2
panel(0, 1, 'Annualized Rate of Inflation', 'line', [line(inflSeries, '#F18F01')],
  axis(false, -12.5, 262.5, yearTicks, 0, 'Years (cumulated quarters)'),
  axis(true, -10.19, 8.18, inflTicks, 1, 'Yearly inflation rate (%)', 20.6, yw[0]),
  { zeroLine: { y: 0 } });

panel(1, 1, 'Productivity / Real Wage Ratio', 'line',
  [line(prodSeries, '#E74C3C'), line(wageSeries, '#6A994E')],
  axis(false, 475, 1025, tTicks, 0, 't'),
  axis(true, 4.62, 22.78, prodTicks, 1, 'Productivity - Real Wage', 20.6, yw[1]),
  { spans: { ranges: recessions },
    innerLegend: { items: [{label: 'Productivity', color: '#E74C3C'}, {label: 'Real Wage', color: '#6A994E'}] } });

// Row 3
panel(0, 2, 'Phillips Curve', 'scatter',
  [{ data: colPts(phillipsCols), backgroundColor: 'rgba(46,134,171,0.6)', borderWidth: 0, pointRadius: 2.7 }],
  axis(false, -0.0072, 0.1512, uRateTicks, 2, 'Unemployment Rate'),
  axis(true, -0.1731, 0.0342, wageInflTicks, 3, 'Wage Inflation Rate', 11.6, yw[0]));

panel(1, 2, 'Okun Curve', 'scatter',
  [{ data: pts(okunPoints), backgroundColor: 'rgba(162,59,114,0.6)', borderWidth: 0, pointRadius: 1.6 }],
  axis(false, -1.3, 5.3, uGrowthTicks, 0, 'Unemployment Growth Rate'),
  axis(true, -0.1033, 0.0292, outGrowthTicks, 2, 'Output Growth Rate', 8.6, yw[1]));

// Row 4
panel(0, 3, 'Beveridge Curve', 'scatter',
  [{ data: colPts(beveridgeCols), backgroundColor: 'rgba(241,143,1,0.6)', borderWidth: 0, pointRadius: 2.7 }],
  axis(false, -0.0072, 0.1512, uRateTicks, 2, 'Unemployment Rate'),
  axis(true, 0.0596, 0.2048, vacancyTicks, 2, 'Vacancy Rate', 31.6, yw[0]));

const histData = histCounts.map((n, i) => ({ x: (histEdges[i] + histEdges[i + 1]) / 2, y: n }));
panel(1, 3, 'Firm Size Distribution', 'bar',
  [{ data: histData, backgroundColor: 'rgba(106,153,78,0.7)', borderColor: 'rgba(0,0,0,0.7)',
     borderWidth: 1.2, borderSkipped: false, barPercentage: 1, categoryPercentage: 1 }],
  axis(false, 6.2, 653.9, prodnTicks, 0, 'Production'),
  axis(true, 0, 56.7, freqTicks, 0, 'Frequency', 34.6, yw[1]));
</script>
</body>
</html>
